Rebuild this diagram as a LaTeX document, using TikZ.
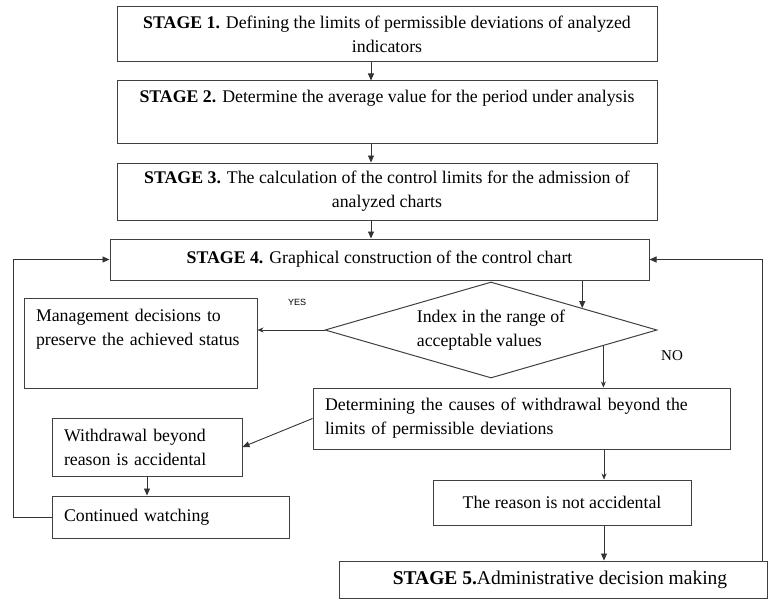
\documentclass[tikz,border=0pt]{standalone}
\usepackage{fontspec}
\setmainfont{Liberation Serif}
\setsansfont{Liberation Sans}
\usetikzlibrary{shapes.geometric,arrows.meta,calc}
\begin{document}
\begin{tikzpicture}[x=1pt,y=-1pt,
  box/.style={draw=black!75, line width=1pt, rectangle, inner sep=0pt, font=\fontsize{17.8}{24}\selectfont},
  arr/.style={draw=black!80, line width=0.9pt, -{Triangle[length=7pt,width=6pt]}},
  sarr/.style={draw=black!80, line width=0.7pt, -{Stealth[length=6pt,width=5pt]}},
  lbl/.style={inner sep=0pt}
]
\useasboundingbox (0,0) rectangle (770,599);
\coordinate (cx) at (371,0);
\coordinate (cd) at (604,0);
\coordinate (rx) at (762,0);

\node[box, minimum width=540, minimum height=55, align=center] (s1) at (387,34.5)
  {\textbf{STAGE 1.} Defining the limits of permissible deviations of analyzed\\indicators};
\node[box, minimum width=540, minimum height=62, align=center] (s2) at (387,112)
  {\textbf{STAGE 2.} Determine the average value for the period under analysis\\\strut};
\node[box, minimum width=540, minimum height=57, align=center] (s3) at (387,191.5)
  {\textbf{STAGE 3.} The calculation of the control limits for the admission of\\analyzed charts};
\node[box, minimum width=539, minimum height=41, align=center] (s4) at (379.5,259.5)
  {\textbf{STAGE 4.} Graphical construction of the control chart};

\node[diamond, draw=black!75, line width=1pt, minimum width=332, minimum height=96, shape aspect=3.46,
  inner sep=0pt, align=left, font=\fontsize{17.8}{24}\selectfont] (d) at (491,330)
  {Index in the range of\\acceptable values};

\node[box, minimum width=233, minimum height=90, text width=209, align=left] (mg) at (140.5,343)
  {Management decisions to\\preserve the achieved status\\\strut};
\node[box, minimum width=417, minimum height=61, text width=393, align=left] (det) at (521.5,418.5)
  {Determining the causes of withdrawal beyond the\\limits of permissible deviations};
\node[box, minimum width=190, minimum height=58, text width=166, align=left] (wd) at (147,447)
  {Withdrawal beyond\\reason is accidental};
\node[box, minimum width=237, minimum height=42, text width=213, align=left] (cw) at (170.5,517)
  {Continued watching};
\node[box, minimum width=258, minimum height=45, align=center] (na) at (562,502.5)
  {The reason is not accidental};
\node[box, minimum width=428, minimum height=37, align=center, font=\fontsize{19.5}{24}\selectfont] (s5) at (553,579.5)
  {\hspace*{14pt}\textbf{STAGE 5.}Administrative decision making};

\node[lbl, font=\sffamily\fontsize{9}{10}\selectfont] (yes) at (297,302) {YES};
\node[lbl, font=\fontsize{15}{18}\selectfont] (no) at (672,356) {NO};

\coordinate (pin) at ($(d.north)!0.548!(d.east)$);
\coordinate (pout) at ($(d.south)!0.675!(d.east)$);

\draw[arr] (s1.south -| cx) -- (s2.north -| cx);
\draw[arr] (s2.south -| cx) -- (s3.north -| cx);
\draw[arr] (s3.south -| cx) -- (s4.north -| cx);
\draw[arr] (s4.south -| pin) -- (pin);
\draw[sarr] (d.west) -- (d.west -| mg.east);
\draw[sarr] (pout) -- (pout |- det.north);
\draw[arr] (det.west) -- (wd.east);
\draw[arr] (wd.south) -- (wd.south |- cw.north);
\draw[sarr] (det.south -| cd) -- (na.north -| cd);
\draw[arr] (na.south -| cd) -- (s5.north -| cd);
\draw[arr] (cw.west) -- ++(-38,0) |- (s4.west);
\draw[arr] (s5.north -| rx) |- (s4.east);
\end{tikzpicture}
\end{document}
